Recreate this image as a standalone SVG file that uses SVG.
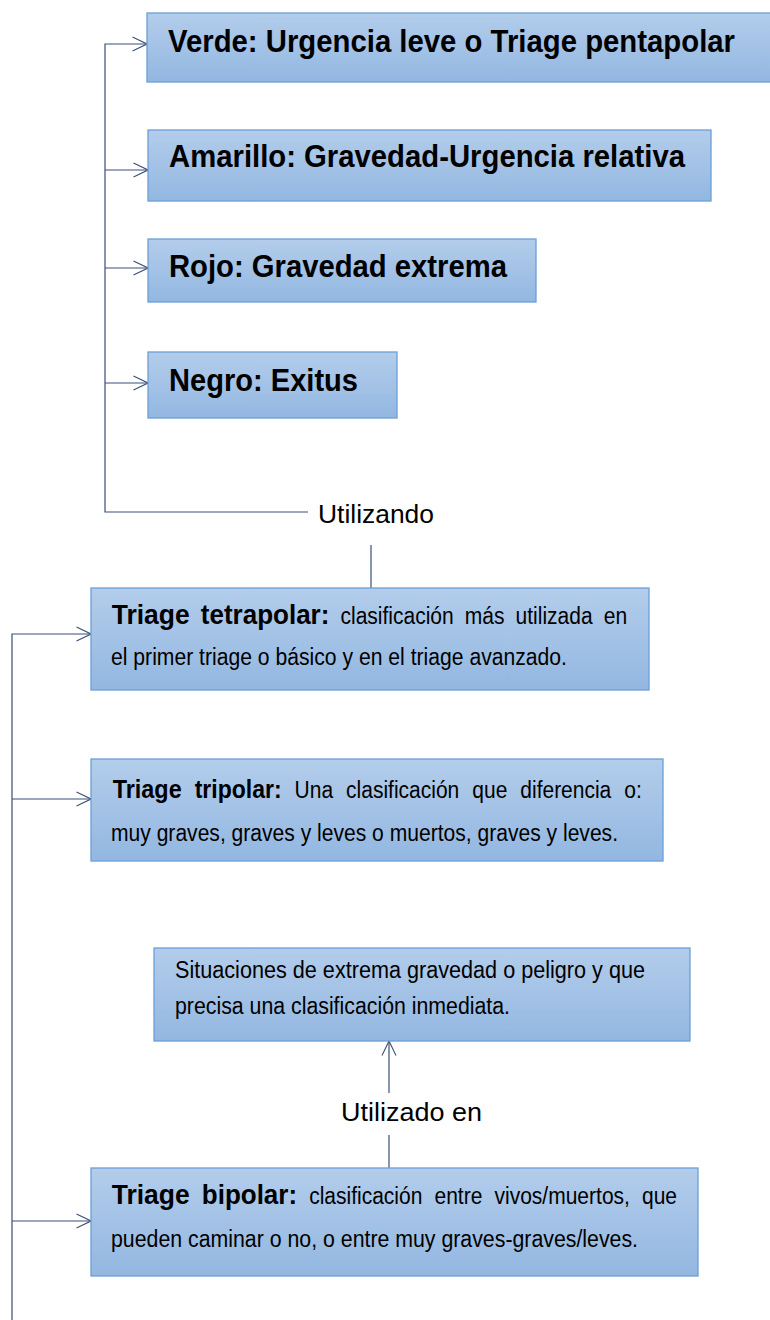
<svg xmlns="http://www.w3.org/2000/svg" width="770" height="1320" viewBox="0 0 770 1320">
<defs>
<linearGradient id="g" x1="0" y1="0" x2="0" y2="1">
<stop offset="0" stop-color="#b3cdeb"/>
<stop offset="1" stop-color="#93b7e1"/>
</linearGradient>
<marker id="a" viewBox="0 0 16 16" refX="15.5" refY="8" markerWidth="16" markerHeight="16" markerUnits="userSpaceOnUse" orient="auto">
<path d="M1,1 L15.5,8 L1,15" fill="none" stroke="#3a4f7a" stroke-width="1.1"/>
</marker>
<style>
.box{fill:url(#g);stroke:#6a9fd8;stroke-width:1.3}
.c{fill:none;stroke:#3a4f7a;stroke-width:1.2}
.t{font-family:"Liberation Sans",Arial,sans-serif;fill:#000}
.h{font-weight:bold;font-size:31px}
.b{font-size:23px}
.bb{font-size:28px;font-weight:bold}
.bt{font-size:25px;font-weight:bold}
.lab{font-family:"Liberation Sans",Arial,sans-serif;font-size:25px;fill:#000}
</style>
</defs>
<g id="connectors">
<path class="c" d="M308,512 H105 V44 H147" marker-end="url(#a)"/>
<path class="c" d="M105,170 H148" marker-end="url(#a)"/>
<path class="c" d="M105,268 H148" marker-end="url(#a)"/>
<path class="c" d="M105,383 H148" marker-end="url(#a)"/>
<path class="c" d="M371,545 V588"/>
<path class="c" d="M12,1320 V634 H91" marker-end="url(#a)"/>
<path class="c" d="M12,799 H91" marker-end="url(#a)"/>
<path class="c" d="M12,1221 H91" marker-end="url(#a)"/>
<path class="c" d="M389,1168 V1135"/>
<path class="c" d="M389,1093 V1041" marker-end="url(#a)"/>
</g>
<g id="verde">
<rect class="box" x="147" y="13" width="630" height="69"/>
<text class="t h" x="168" y="52" textLength="567" lengthAdjust="spacingAndGlyphs">Verde: Urgencia leve o Triage pentapolar</text>
</g>
<g id="amarillo">
<rect class="box" x="148" y="130" width="563" height="71"/>
<text class="t h" x="169" y="167" textLength="516" lengthAdjust="spacingAndGlyphs">Amarillo: Gravedad-Urgencia relativa</text>
</g>
<g id="rojo">
<rect class="box" x="148" y="239" width="388" height="63"/>
<text class="t h" x="169" y="277" textLength="338" lengthAdjust="spacingAndGlyphs">Rojo: Gravedad extrema</text>
</g>
<g id="negro">
<rect class="box" x="148" y="352" width="249" height="66"/>
<text class="t h" x="169" y="391" textLength="189" lengthAdjust="spacingAndGlyphs">Negro: Exitus</text>
</g>
<g id="utilizando">
<text class="lab" x="318" y="523" textLength="116" lengthAdjust="spacingAndGlyphs">Utilizando</text>
</g>
<g id="tetrapolar">
<rect class="box" x="91" y="588" width="558" height="102"/>
<text class="t" y="624"><tspan class="bb" x="111.7" textLength="78" lengthAdjust="spacingAndGlyphs">Triage</tspan><tspan class="bb" x="200.8" textLength="128.6" lengthAdjust="spacingAndGlyphs">tetrapolar:</tspan><tspan class="b" x="340.5" textLength="113.2" lengthAdjust="spacingAndGlyphs">clasificación</tspan><tspan class="b" x="464.8" textLength="39.7" lengthAdjust="spacingAndGlyphs">más</tspan><tspan class="b" x="515.6" textLength="77" lengthAdjust="spacingAndGlyphs">utilizada</tspan><tspan class="b" x="603.7" textLength="23.4" lengthAdjust="spacingAndGlyphs">en</tspan></text>
<text class="t b" x="111" y="665" textLength="456" lengthAdjust="spacingAndGlyphs">el primer triage o básico y en el triage avanzado.</text>
</g>
<g id="tripolar">
<rect class="box" x="91" y="759" width="572" height="102"/>
<text class="t" y="798"><tspan class="bt" x="112.7" textLength="69" lengthAdjust="spacingAndGlyphs">Triage</tspan><tspan class="bt" x="194.7" textLength="86.9" lengthAdjust="spacingAndGlyphs">tripolar:</tspan><tspan class="b" x="294.6" textLength="38.5" lengthAdjust="spacingAndGlyphs">Una</tspan><tspan class="b" x="346.1" textLength="113.2" lengthAdjust="spacingAndGlyphs">clasificación</tspan><tspan class="b" x="472.3" textLength="35" lengthAdjust="spacingAndGlyphs">que</tspan><tspan class="b" x="520.3" textLength="91" lengthAdjust="spacingAndGlyphs">diferencia</tspan><tspan class="b" x="624.3" textLength="17.5" lengthAdjust="spacingAndGlyphs">o:</tspan></text>
<text class="t b" x="111" y="841" textLength="507" lengthAdjust="spacingAndGlyphs">muy graves, graves y leves o muertos, graves y leves.</text>
</g>
<g id="situaciones">
<rect class="box" x="154" y="948" width="536" height="93"/>
<text class="t b" x="175" y="978" textLength="470" lengthAdjust="spacingAndGlyphs">Situaciones de extrema gravedad o peligro y que</text>
<text class="t b" x="175" y="1014" textLength="335" lengthAdjust="spacingAndGlyphs">precisa una clasificación inmediata.</text>
</g>
<g id="utilizado">
<text class="lab" x="341" y="1121" textLength="141" lengthAdjust="spacingAndGlyphs">Utilizado en</text>
</g>
<g id="bipolar">
<rect class="box" x="91" y="1168" width="607" height="108"/>
<text class="t" y="1204"><tspan class="bb" x="111.7" textLength="78" lengthAdjust="spacingAndGlyphs">Triage</tspan><tspan class="bb" x="201.8" textLength="95.3" lengthAdjust="spacingAndGlyphs">bipolar:</tspan><tspan class="b" x="309.2" textLength="113.2" lengthAdjust="spacingAndGlyphs">clasificación</tspan><tspan class="b" x="434.5" textLength="47.9" lengthAdjust="spacingAndGlyphs">entre</tspan><tspan class="b" x="494.5" textLength="135.4" lengthAdjust="spacingAndGlyphs">vivos/muertos,</tspan><tspan class="b" x="642" textLength="35" lengthAdjust="spacingAndGlyphs">que</tspan></text>
<text class="t b" x="111" y="1247" textLength="527" lengthAdjust="spacingAndGlyphs">pueden caminar o no, o entre muy graves-graves/leves.</text>
</g>
</svg>
